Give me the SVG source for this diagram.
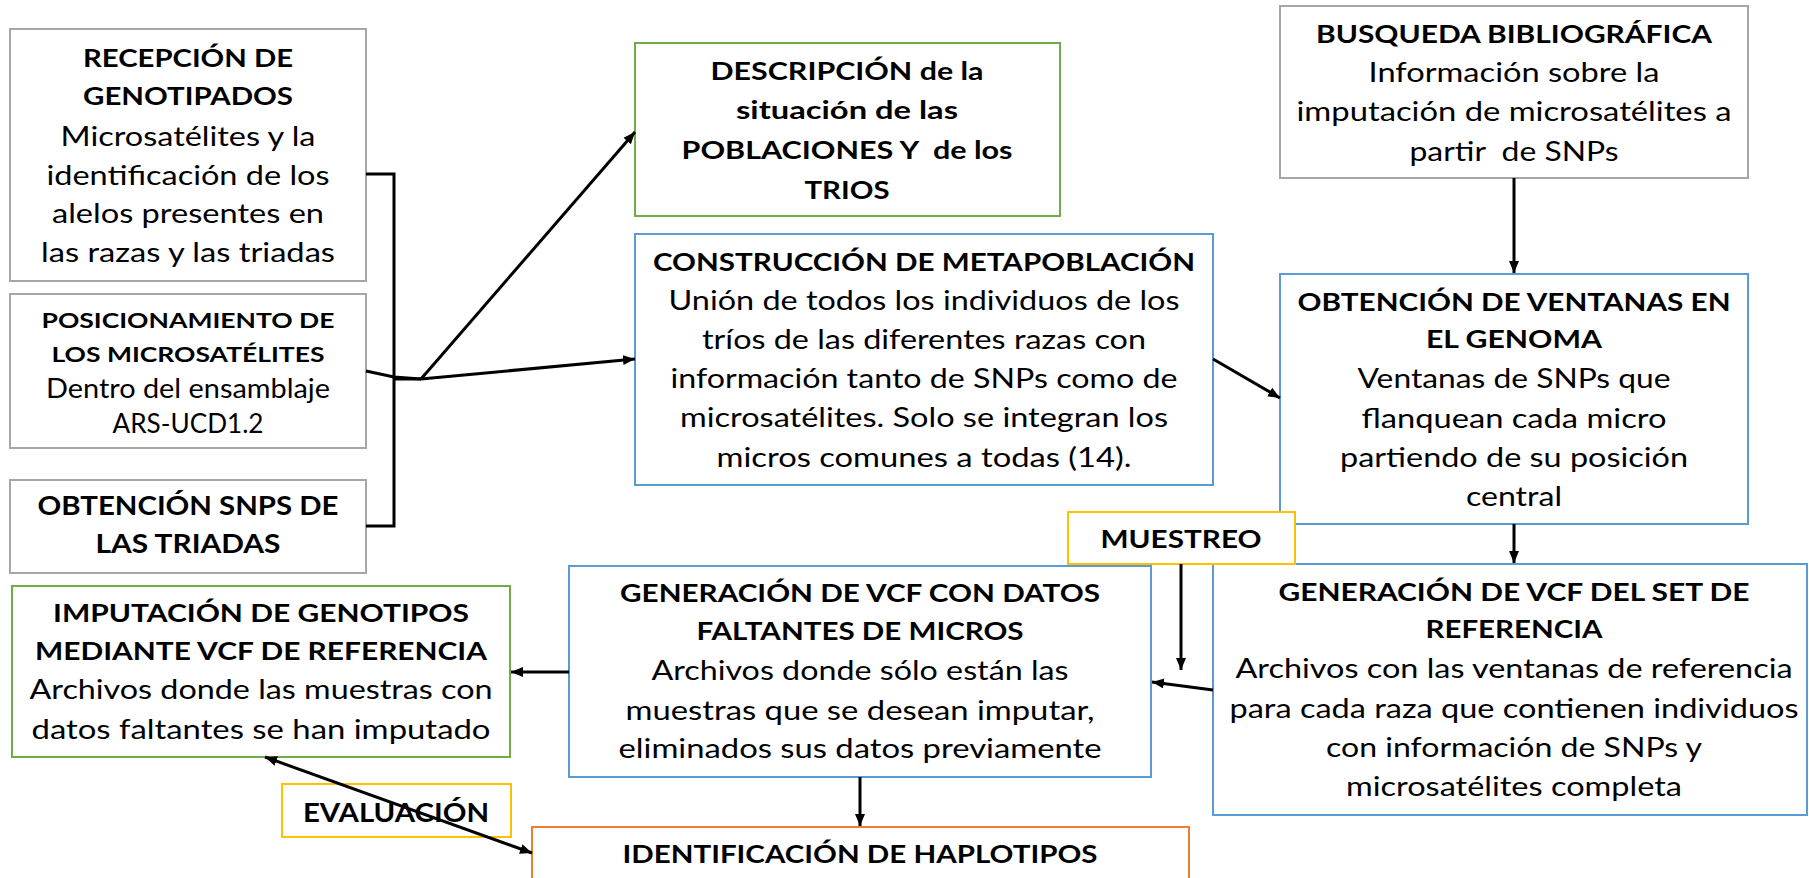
<svg xmlns="http://www.w3.org/2000/svg" width="1809" height="878" viewBox="0 0 1809 878">
<style>
.box{fill:#fff;stroke-width:2}
.gray{stroke:#a6a6a6}.green{stroke:#70ad47}.blue{stroke:#5b9bd5}.yellow{stroke:#ffc000}.orange{stroke:#ed7d31}
text{font-family:Lato,"Liberation Sans",sans-serif;text-anchor:middle;fill:#000}
.b{font-weight:bold;font-size:25px}
.r{font-size:26px}
.bs{font-weight:bold;font-size:21px}
.bl{font-weight:bold;font-size:27px}
.pre{white-space:pre}
.conn{stroke:#000;stroke-width:3;fill:none}
</style>
<defs>
<marker id="ah" markerUnits="userSpaceOnUse" markerWidth="13" markerHeight="11" refX="12" refY="5" orient="auto-start-reverse">
<path d="M0,0 L12,5 L0,10 z" fill="#000"/>
</marker>
</defs>
<rect x="0" y="0" width="1809" height="878" fill="#fff"/>
<g id="recepcion">
<rect class="box gray" x="10" y="29" width="356" height="252"/>
<text class="b" x="188" y="67" textLength="210" lengthAdjust="spacingAndGlyphs">RECEPCIÓN DE</text>
<text class="b" x="188" y="105" textLength="210" lengthAdjust="spacingAndGlyphs">GENOTIPADOS</text>
<text class="r" x="188" y="146" textLength="255" lengthAdjust="spacingAndGlyphs">Microsatélites y la</text>
<text class="r" x="188" y="185" textLength="283" lengthAdjust="spacingAndGlyphs">identificación de los</text>
<text class="r" x="188" y="223" textLength="272" lengthAdjust="spacingAndGlyphs">alelos presentes en</text>
<text class="r" x="188" y="262" textLength="294" lengthAdjust="spacingAndGlyphs">las razas y las triadas</text>
</g>
<g id="posicionamiento">
<rect class="box gray" x="10" y="294" width="356" height="154"/>
<text class="bs" x="188" y="328" textLength="293" lengthAdjust="spacingAndGlyphs">POSICIONAMIENTO DE</text>
<text class="bs" x="188" y="362" textLength="273" lengthAdjust="spacingAndGlyphs">LOS MICROSATÉLITES</text>
<text class="r" x="188" y="398" textLength="284" lengthAdjust="spacingAndGlyphs">Dentro del ensamblaje</text>
<text class="r" x="188" y="433" textLength="151" lengthAdjust="spacingAndGlyphs">ARS-UCD1.2</text>
</g>
<g id="obtencion-snps">
<rect class="box gray" x="10" y="480" width="356" height="93"/>
<text class="bl" x="188" y="515" textLength="301" lengthAdjust="spacingAndGlyphs">OBTENCIÓN SNPS DE</text>
<text class="bl" x="188" y="553" textLength="185" lengthAdjust="spacingAndGlyphs">LAS TRIADAS</text>
</g>
<g id="descripcion">
<rect class="box green" x="635" y="43" width="425" height="173"/>
<text class="b" x="847" y="80" textLength="273" lengthAdjust="spacingAndGlyphs">DESCRIPCIÓN de la</text>
<text class="b" x="847" y="119" textLength="222" lengthAdjust="spacingAndGlyphs">situación de las</text>
<text class="b pre" x="847" y="159" textLength="331" lengthAdjust="spacingAndGlyphs">POBLACIONES Y  de los</text>
<text class="b" x="847" y="199" textLength="85" lengthAdjust="spacingAndGlyphs">TRIOS</text>
</g>
<g id="construccion">
<rect class="box blue" x="635" y="234" width="578" height="251"/>
<text class="b" x="924" y="271" textLength="542" lengthAdjust="spacingAndGlyphs">CONSTRUCCIÓN DE METAPOBLACIÓN</text>
<text class="r" x="924" y="310" textLength="511" lengthAdjust="spacingAndGlyphs">Unión de todos los individuos de los</text>
<text class="r" x="924" y="349" textLength="444" lengthAdjust="spacingAndGlyphs">tríos de las diferentes razas con</text>
<text class="r" x="924" y="388" textLength="507" lengthAdjust="spacingAndGlyphs">información tanto de SNPs como de</text>
<text class="r" x="924" y="427" textLength="488" lengthAdjust="spacingAndGlyphs">microsatélites. Solo se integran los</text>
<text class="r" x="924" y="467" textLength="415" lengthAdjust="spacingAndGlyphs">micros comunes a todas (14).</text>
</g>
<g id="busqueda">
<rect class="box gray" x="1280" y="6" width="468" height="172"/>
<text class="b" x="1514" y="43" textLength="396" lengthAdjust="spacingAndGlyphs">BUSQUEDA BIBLIOGRÁFICA</text>
<text class="r" x="1514" y="82" textLength="291" lengthAdjust="spacingAndGlyphs">Información sobre la</text>
<text class="r" x="1514" y="121" textLength="435" lengthAdjust="spacingAndGlyphs">imputación de microsatélites a</text>
<text class="r pre" x="1514" y="161" textLength="209" lengthAdjust="spacingAndGlyphs">partir  de SNPs</text>
</g>
<g id="ventanas">
<rect class="box blue" x="1280" y="274" width="468" height="250"/>
<text class="b" x="1514" y="311" textLength="433" lengthAdjust="spacingAndGlyphs">OBTENCIÓN DE VENTANAS EN</text>
<text class="b" x="1514" y="348" textLength="176" lengthAdjust="spacingAndGlyphs">EL GENOMA</text>
<text class="r" x="1514" y="388" textLength="313" lengthAdjust="spacingAndGlyphs">Ventanas de SNPs que</text>
<text class="r" x="1514" y="428" textLength="305" lengthAdjust="spacingAndGlyphs">flanquean cada micro</text>
<text class="r" x="1514" y="467" textLength="348" lengthAdjust="spacingAndGlyphs">partiendo de su posición</text>
<text class="r" x="1514" y="506" textLength="96" lengthAdjust="spacingAndGlyphs">central</text>
</g>
<g id="set-referencia">
<rect class="box blue" x="1213" y="564" width="594" height="251"/>
<text class="b" x="1514" y="601" textLength="471" lengthAdjust="spacingAndGlyphs">GENERACIÓN DE VCF DEL SET DE</text>
<text class="b" x="1514" y="638" textLength="177" lengthAdjust="spacingAndGlyphs">REFERENCIA</text>
<text class="r" x="1514" y="678" textLength="557" lengthAdjust="spacingAndGlyphs">Archivos con las ventanas de referencia</text>
<text class="r" x="1514" y="718" textLength="569" lengthAdjust="spacingAndGlyphs">para cada raza que contienen individuos</text>
<text class="r" x="1514" y="757" textLength="376" lengthAdjust="spacingAndGlyphs">con información de SNPs y</text>
<text class="r" x="1514" y="796" textLength="336" lengthAdjust="spacingAndGlyphs">microsatélites completa</text>
</g>
<g id="muestreo">
<rect class="box yellow" x="1068" y="512" width="227" height="52"/>
<text class="b" x="1181" y="548" textLength="161" lengthAdjust="spacingAndGlyphs">MUESTREO</text>
</g>
<g id="vcf-faltantes">
<rect class="box blue" x="569" y="566" width="582" height="211"/>
<text class="b" x="860" y="602" textLength="480" lengthAdjust="spacingAndGlyphs">GENERACIÓN DE VCF CON DATOS</text>
<text class="b" x="860" y="640" textLength="327" lengthAdjust="spacingAndGlyphs">FALTANTES DE MICROS</text>
<text class="r" x="860" y="680" textLength="417" lengthAdjust="spacingAndGlyphs">Archivos donde sólo están las</text>
<text class="r" x="860" y="720" textLength="469" lengthAdjust="spacingAndGlyphs">muestras que se desean imputar,</text>
<text class="r" x="860" y="758" textLength="483" lengthAdjust="spacingAndGlyphs">eliminados sus datos previamente</text>
</g>
<g id="imputacion">
<rect class="box green" x="12" y="586" width="498" height="171"/>
<text class="b" x="261" y="622" textLength="416" lengthAdjust="spacingAndGlyphs">IMPUTACIÓN DE GENOTIPOS</text>
<text class="b" x="261" y="660" textLength="452" lengthAdjust="spacingAndGlyphs">MEDIANTE VCF DE REFERENCIA</text>
<text class="r" x="261" y="699" textLength="463" lengthAdjust="spacingAndGlyphs">Archivos donde las muestras con</text>
<text class="r" x="261" y="739" textLength="459" lengthAdjust="spacingAndGlyphs">datos faltantes se han imputado</text>
</g>
<g id="evaluacion">
<rect class="box yellow" x="282" y="784" width="229" height="53"/>
<text class="bl" x="396" y="822" textLength="186" lengthAdjust="spacingAndGlyphs">EVALUACIÓN</text>
</g>
<g id="identificacion">
<rect class="box orange" x="532" y="827" width="657" height="70"/>
<text class="b" x="860" y="863" textLength="475" lengthAdjust="spacingAndGlyphs">IDENTIFICACIÓN DE HAPLOTIPOS</text>
</g>
<g id="connectors">
<polyline class="conn" points="366,174 394,174 394,526 366,526"/>
<polyline class="conn" points="366,371 394,377 421,379"/>
<line class="conn" x1="394" y1="379" x2="421" y2="379"/>
<line class="conn" x1="421" y1="379" x2="635" y2="132" marker-end="url(#ah)"/>
<line class="conn" x1="421" y1="379" x2="635" y2="359" marker-end="url(#ah)"/>
<line class="conn" x1="1213" y1="359" x2="1280" y2="398" marker-end="url(#ah)"/>
<line class="conn" x1="1514" y1="178" x2="1514" y2="273" marker-end="url(#ah)"/>
<line class="conn" x1="1514" y1="524" x2="1514" y2="563" marker-end="url(#ah)"/>
<line class="conn" x1="1181" y1="564" x2="1181" y2="670" marker-end="url(#ah)"/>
<line class="conn" x1="1213" y1="690" x2="1152" y2="682" marker-end="url(#ah)"/>
<line class="conn" x1="569" y1="672" x2="511" y2="672" marker-end="url(#ah)"/>
<line class="conn" x1="860" y1="777" x2="860" y2="826" marker-end="url(#ah)"/>
<line class="conn" x1="265" y1="757" x2="532" y2="853" marker-start="url(#ah)" marker-end="url(#ah)"/>
</g>
</svg>
